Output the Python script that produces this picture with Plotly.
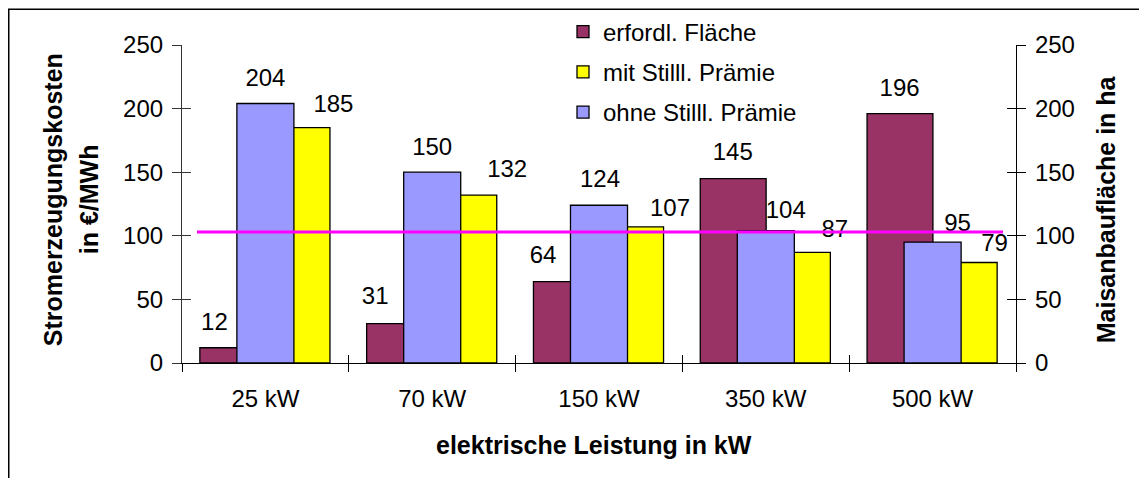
import plotly.graph_objects as go

# ---------------- data ----------------
categories = ["25 kW", "70 kW", "150 kW", "350 kW", "500 kW"]
flaeche = [12, 31, 64, 145, 196]          # erfordl. Fläche (ha)
mit_praemie = [185, 132, 107, 87, 79]     # mit Stilll. Prämie (€/MWh)
ohne_praemie = [204, 150, 124, 104, 95]   # ohne Stilll. Prämie (€/MWh)
schwelle = 103                            # horizontal reference line
y_ticks = [0, 50, 100, 150, 200, 250]

# ---------------- layout constants ----------------
OFF = 8                      # default page body margin
W, H = 1147 - 2 * OFF, 486 - 2 * OFF
PL, PR, PT, PB = 182, 1016, 44.5, 363     # plot area in page pixels
L, T = PL - OFF, PT - OFF
R, B = W - (PR - OFF), H - (PB - OFF)
plot_w = W - L - R
plot_h = H - T - B
y_max = 250
cat_px = plot_w / len(categories)
FONT = "Liberation Sans, Arial, sans-serif"
FS = 24
FS_T = 25

idx = list(range(len(categories)))
bounds = [i - 0.5 for i in range(len(categories) + 1)]


def px_x(px):
    return (px - PL) / plot_w


def px_y(py):
    return (PB - py) / plot_h


# label nudges (pixels from group centre, data units above bar top)
lab_dx = {"f": [-51, -57, -56, -33, -33],
          "o": [0, 0, 1, 20, 25],
          "m": [68, 75, 71, 69, 62]}
lab_dy = {"f": [18.4, 20.4, 19.6, 19.4, 18.6],
          "o": [18.5, 18.3, 19.2, 14.9, 13.7],
          "m": [17.1, 19.1, 13.4, 17.0, 14.0]}

fig = go.Figure()
outline = dict(color="black", width=1.3)

fig.add_trace(go.Bar(x=idx, y=flaeche, name="erfordl. Fläche", legendgroup="a",
                     offset=-0.393, width=0.395,
                     marker=dict(color="#993366", line=outline)))
fig.add_trace(go.Bar(x=idx, y=mit_praemie, name="mit Stilll. Prämie", legendgroup="b",
                     offset=0.045, width=0.342,
                     marker=dict(color="#FFFF00", line=outline)))
fig.add_trace(go.Bar(x=idx, y=ohne_praemie, name="ohne Stilll. Prämie", legendgroup="c",
                     offset=-0.171, width=0.342,
                     marker=dict(color="#9999FF", line=outline)))

for key, vals, yax in (("f", flaeche, "y2"), ("o", ohne_praemie, "y3"),
                       ("m", mit_praemie, "y3")):
    fig.add_trace(go.Scatter(
        x=[i + dx / cat_px for i, dx in zip(idx, lab_dx[key])],
        y=[v + dy for v, dy in zip(vals, lab_dy[key])],
        yaxis=yax,
        mode="text", text=[str(v) for v in vals], textposition="middle center",
        textfont=dict(family=FONT, size=FS, color="black"),
        showlegend=False, hoverinfo="skip"))

fig.add_trace(go.Scatter(
    x=[bounds[0] + 15 / cat_px, bounds[-1] - 13 / cat_px], y=[schwelle, schwelle],
    xaxis="x2", yaxis="y4",
    mode="lines", line=dict(color="#FF00FF", width=3.2),
    showlegend=False, hoverinfo="skip"))

common_y = dict(range=[0, y_max], tickmode="array", tickvals=y_ticks,
                showgrid=False, zeroline=False, fixedrange=True)

fig.update_layout(
    width=W, height=H,
    margin=dict(l=L, r=R, t=T, b=B, pad=0, autoexpand=False),
    paper_bgcolor="white", plot_bgcolor="white",
    font=dict(family=FONT, size=FS, color="black"),
    barmode="overlay",
    showlegend=True,
    legend=dict(x=px_x(563), y=px_y(9), xanchor="left", yanchor="top",
                bgcolor="rgba(0,0,0,0)", traceorder="grouped", tracegroupgap=6,
                font=dict(family=FONT, size=FS, color="black"), itemwidth=30),
    xaxis=dict(range=[bounds[0], bounds[-1]], tickmode="array", tickvals=idx,
               ticktext=categories, ticks="", showline=True, linecolor="black",
               linewidth=1.3, showgrid=False, zeroline=False, fixedrange=True,
               ticklabelstandoff=14,
               minor=dict(tickmode="array", tickvals=bounds, ticks="outside",
                          ticklen=8, tickwidth=1, tickcolor="black")),
    xaxis2=dict(overlaying="x", anchor="y", side="bottom",
                range=[bounds[0], bounds[-1]], tickmode="array", tickvals=bounds,
                ticks="inside", ticklen=8, tickwidth=1, tickcolor="black",
                showticklabels=False, showline=False, showgrid=False,
                zeroline=False, fixedrange=True),
    yaxis=dict(**common_y, ticks="outside", ticklen=9, tickwidth=1, tickcolor="#333333",
               showline=True, linecolor="#333333", linewidth=1.2,
               ticklabelstandoff=4),
    yaxis3=dict(**common_y, overlaying="y", anchor="x", side="left",
                ticks="inside", ticklen=9, tickwidth=1, tickcolor="#333333",
                showticklabels=False, showline=False),
    yaxis2=dict(**common_y, overlaying="y", anchor="x", side="right",
                ticks="outside", ticklen=9, tickwidth=1, tickcolor="black",
                showline=True, linecolor="black", linewidth=1.2,
                ticklabelstandoff=4),
    yaxis4=dict(**common_y, overlaying="y", anchor="x", side="right",
                ticks="inside", ticklen=9, tickwidth=1, tickcolor="black",
                showticklabels=False, showline=False),
)

title_font = dict(family=FONT, size=FS_T, color="black")
fig.add_annotation(text="<b>Stromerzeugungskosten</b>", xref="paper", yref="paper",
                   x=px_x(53), y=px_y(200), xanchor="center", yanchor="middle",
                   textangle=-90, showarrow=False, font=title_font)
fig.add_annotation(text="<b>in €/MWh</b>", xref="paper", yref="paper",
                   x=px_x(89), y=px_y(199), xanchor="center", yanchor="middle",
                   textangle=-90, showarrow=False, font=title_font)
fig.add_annotation(text="<b>Maisanbaufläche in ha</b>", xref="paper", yref="paper",
                   x=px_x(1106), y=px_y(209), xanchor="center", yanchor="middle",
                   textangle=-90, showarrow=False, font=title_font)
fig.add_annotation(text="<b>elektrische Leistung in kW</b>", xref="paper", yref="paper",
                   x=px_x(594), y=px_y(445), xanchor="center", yanchor="middle",
                   showarrow=False, font=title_font)

fig.add_shape(type="rect", xref="paper", yref="paper",
              x0=px_x(OFF + 0.75), x1=px_x(1200), y0=px_y(520), y1=px_y(OFF + 0.75),
              line=dict(color="black", width=1.5), fillcolor="rgba(0,0,0,0)")

fig.write_html("out.html")
